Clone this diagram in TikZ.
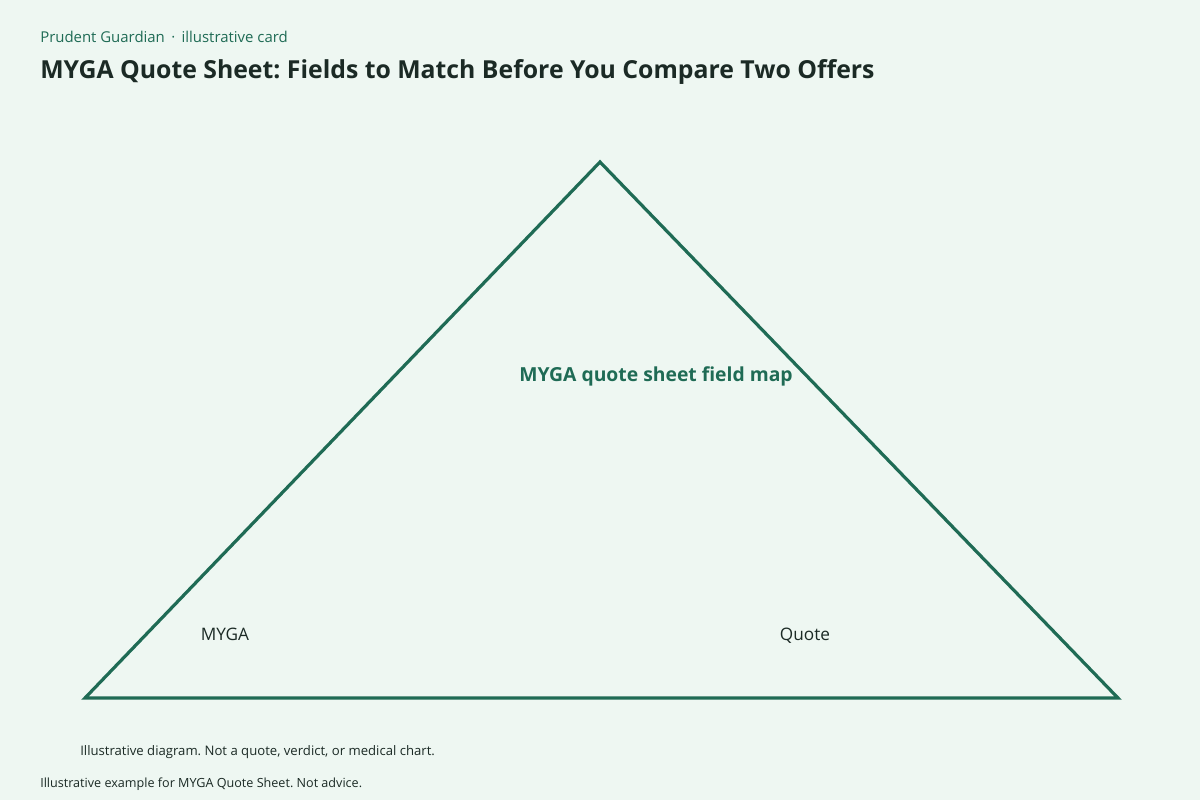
\documentclass[tikz,border=0pt]{standalone}
\usepackage{fontspec}
\setmainfont{Open Sans}
\frenchspacing
\definecolor{bg}{HTML}{EEF7F2}
\definecolor{grn}{HTML}{1F6B55}
\definecolor{ink}{HTML}{1B2A25}
\begin{document}
\begin{tikzpicture}[x=0.75pt,y=-0.75pt,
  lbl/.style={inner sep=0pt,anchor=base,font=\fontsize{12.9}{14}\selectfont,text=ink},
  foot/.style={inner sep=0pt,anchor=base west,text=ink}]
\fill[bg] (0,0) rectangle (1200,800);
\useasboundingbox (0,0) rectangle (1200,800);
\node[inner sep=0pt,anchor=base west,text=grn,font=\fontsize{11.2}{13}\selectfont] (sub) at (40,42) {Prudent Guardian \,·\, illustrative card};
\node[inner sep=0pt,anchor=base west,text=ink,font=\fontsize{18.6}{21}\selectfont\bfseries] (title) at (40,78) {MYGA Quote Sheet: Fields to Match Before You Compare Two Offers};
\coordinate (A) at (600,162);
\coordinate (L) at (85,698);
\coordinate (R) at (1118,698);
\draw[grn,line width=2.4pt,line join=miter] (A) -- (L) -- (R) -- cycle;
\node[inner sep=0pt,text=grn,font=\fontsize{14.5}{17}\selectfont\bfseries] (center) at (656,376) {MYGA quote sheet field map};
\node[lbl] (myga) at (225,640) {MYGA};
\node[lbl] (quote) at (805,640) {Quote};
\node[foot,font=\fontsize{9.85}{11}\selectfont] (f1) at (80,755) {Illustrative diagram. Not a quote, verdict, or medical chart.};
\node[foot,font=\fontsize{9.45}{11}\selectfont] (f2) at (40,787) {Illustrative example for MYGA Quote Sheet. Not advice.};
\end{tikzpicture}
\end{document}
